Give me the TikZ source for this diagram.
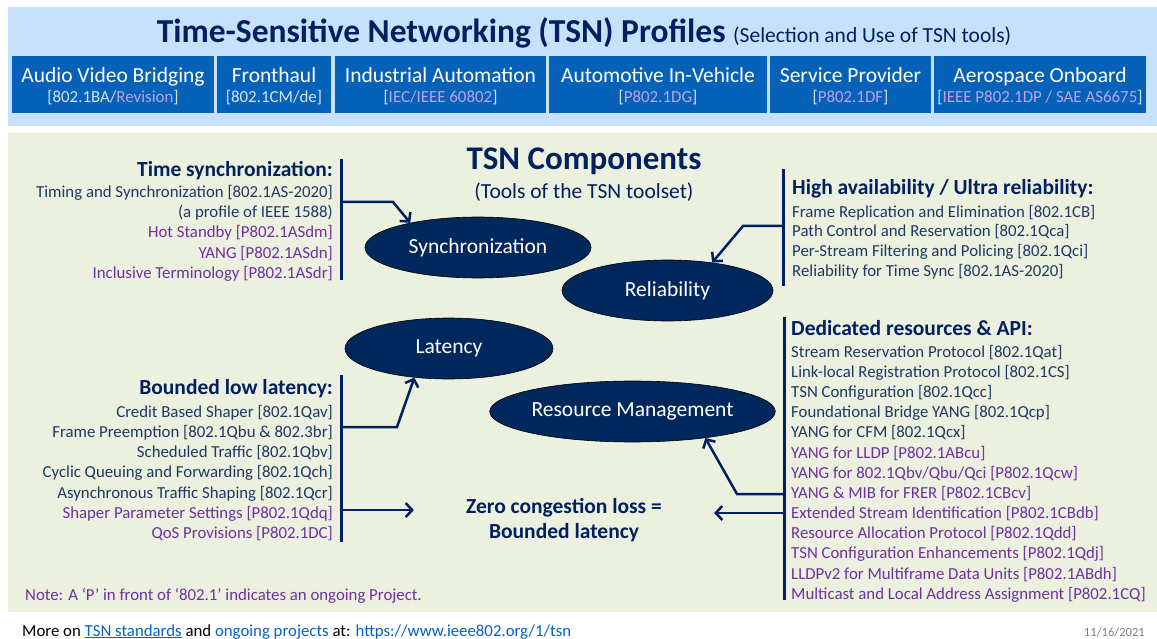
\documentclass[tikz,border=0pt]{standalone}
\usepackage{fontspec}
\setmainfont{Carlito}
\usetikzlibrary{arrows.meta,positioning,shapes.geometric}
\definecolor{navy}{RGB}{0,32,96}
\definecolor{itemblue}{RGB}{31,56,100}
\definecolor{project}{RGB}{112,48,160}
\definecolor{profblue}{RGB}{5,98,184}
\definecolor{lavender}{RGB}{184,164,232}
\definecolor{bracket}{RGB}{214,226,240}
\definecolor{bandblue}{RGB}{198,225,249}
\definecolor{panel}{RGB}{235,241,222}
\definecolor{ovalfill}{RGB}{0,40,92}
\definecolor{linkblue}{RGB}{5,99,193}
\newcommand{\fs}[1]{\fontsize{#1}{#1}\selectfont}
\newcommand{\proj}[1]{\textcolor{lavender}{#1}}
\newcommand{\weblink}[1]{\textcolor{linkblue}{\underline{#1}}}
\tikzset{
  profile/.style={rectangle, fill=profblue, minimum height=57pt, inner sep=0pt, outer sep=0pt},
  pname/.style={anchor=base, text=white, font=\fs{21.5}, inner sep=0pt},
  pref/.style={anchor=base, text=bracket, font=\fs{16.9}, inner sep=0pt},
  oval/.style={ellipse, fill=ovalfill, draw=black, line width=0.6pt, inner sep=0pt, text=white, font=\fs{21.5}},
  head/.style={text=navy, font=\bfseries\fs{21.5}, inner sep=0pt},
  item/.style={text=itemblue, font=\fs{16.8}, inner sep=0pt},
  bar/.style={draw=navy, line width=3pt},
  conn/.style={draw=navy, line width=2.5pt, -{Straight Barb[length=6.5pt,width=14pt]}}
}
\begin{document}
\begin{tikzpicture}[x=1pt,y=-1pt]
    \useasboundingbox (0,0) rectangle (1157,639);
    \fill[white] (0,0) rectangle (1157,639);
    \fill[bandblue] (8,7) rectangle (1157,126);
    \fill[panel] (8,133) rectangle (1157,612);

    \node[anchor=base, text=navy, inner sep=0pt] (title) at (584,43)
        {\bfseries\fs{33.5}Time-Sensitive Networking (TSN) Profiles \mdseries\fs{21.5}(Selection and Use of TSN tools)};

    \node[profile, minimum width=202pt, anchor=north west] (avb) at (12,56) {};
    \node[profile, minimum width=114pt, right=3pt of avb] (fh) {};
    \node[profile, minimum width=211pt, right=4pt of fh] (ia) {};
    \node[profile, minimum width=218pt, right=3pt of ia] (auto) {};
    \node[profile, minimum width=161pt, right=3pt of auto] (sp) {};
    \node[profile, minimum width=212pt, right=3pt of sp] (aero) {};
    \node[pname] at (avb.center |- 0,83) {Audio Video Bridging};
    \node[pref] at (avb.center |- 0,103) {[802.1BA/\proj{Revision}]};
    \node[pname] at (fh.center |- 0,83) {Fronthaul};
    \node[pref] at (fh.center |- 0,103) {[802.1CM/de]};
    \node[pname] at (ia.center |- 0,83) {Industrial Automation};
    \node[pref] at (ia.center |- 0,103) {[\proj{IEC/IEEE 60802}]};
    \node[pname] at (auto.center |- 0,83) {Automotive In-Vehicle};
    \node[pref] at (auto.center |- 0,103) {[\proj{P802.1DG}]};
    \node[pname] at (sp.center |- 0,83) {Service Provider};
    \node[pref] at (sp.center |- 0,103) {[\proj{P802.1DF}]};
    \node[pname] at (aero.center |- 0,83) {Aerospace Onboard};
    \node[pref] at (aero.center |- 0,103) {[\proj{IEEE P802.1DP / SAE AS6675}]};

    \node[anchor=base, text=navy, font=\bfseries\fs{33}, inner sep=0pt] (comp) at (584,170) {TSN Components};
    \node[anchor=base, text=navy, font=\fs{21.5}, inner sep=0pt] (tools) at (584,199) {(Tools of the TSN toolset)};

    \node[oval, minimum width=226pt, minimum height=61pt] (sync) at (478,247.5) {Synchronization};
    \node[oval, minimum width=211pt, minimum height=61pt] (rel) at (667.5,290.5) {Reliability};
    \node[oval, minimum width=208pt, minimum height=61pt] (lat) at (449,348.5) {Latency};
    \node[oval, minimum width=241pt, minimum height=61pt] (res) at (632.5,411.5) {Resource Management};
    \node[text=navy, font=\bfseries\fontsize{21.5}{25}\selectfont, align=center, inner ysep=0pt, inner xsep=52pt] (zero) at (564,520)
        {Zero congestion loss =\\Bounded latency};

    \node[head, anchor=base east] (tsHead) at (333,176.5) {Time synchronization:};
    \foreach \c/\t [count=\i from 0] in {itemblue/{Timing and Synchronization [802.1AS-2020]},
        itemblue/{(a profile of IEEE 1588)}, project/{Hot Standby [P802.1ASdm]},
        project/{YANG [P802.1ASdn]}, project/{Inclusive Terminology [P802.1ASdr]}}
        \node[item, text=\c, anchor=base east] (ts\i) at (333,{197.2+20.4*\i}) {\t};

    \node[head, anchor=base east] (latHead) at (333,394.5) {Bounded low latency:};
    \foreach \c/\t [count=\i from 0] in {itemblue/{Credit Based Shaper [802.1Qav]},
        itemblue/{Frame Preemption [802.1Qbu \& 802.3br]}, itemblue/{Scheduled Traffic [802.1Qbv]},
        itemblue/{Cyclic Queuing and Forwarding [802.1Qch]}, itemblue/{Asynchronous Traffic Shaping [802.1Qcr]},
        project/{Shaper Parameter Settings [P802.1Qdq]}, project/{QoS Provisions [P802.1DC]}}
        \node[item, text=\c, anchor=base east] (bl\i) at (333,{417.2+20.2*\i}) {\t};

    \node[head, anchor=base west] (relHead) at (792,194.5) {High availability / Ultra reliability:};
    \foreach \t [count=\i from 0] in {Frame Replication and Elimination [802.1CB],
        Path Control and Reservation [802.1Qca], Per-Stream Filtering and Policing [802.1Qci],
        Reliability for Time Sync [802.1AS-2020]}
        \node[item, anchor=base west] (ha\i) at (792,{217.2+19.7*\i}) {\t};

    \node[head, anchor=base west] (resHead) at (791,335.5) {Dedicated resources \& API:};
    \foreach \c/\t [count=\i from 0] in {itemblue/{Stream Reservation Protocol [802.1Qat]},
        itemblue/{Link-local Registration Protocol [802.1CS]}, itemblue/{TSN Configuration [802.1Qcc]},
        itemblue/{Foundational Bridge YANG [802.1Qcp]}, itemblue/{YANG for CFM [802.1Qcx]},
        project/{YANG for LLDP [P802.1ABcu]}, project/{YANG for 802.1Qbv/Qbu/Qci [P802.1Qcw]},
        project/{YANG \& MIB for FRER [P802.1CBcv]}, project/{Extended Stream Identification [P802.1CBdb]},
        project/{Resource Allocation Protocol [P802.1Qdd]}, project/{TSN Configuration Enhancements [P802.1Qdj]},
        project/{LLDPv2 for Multiframe Data Units [P802.1ABdh]}, project/{Multicast and Local Address Assignment [P802.1CQ]}}
        \node[item, text=\c, anchor=base west] (dr\i) at (791,{357.2+20.17*\i}) {\t};

    \coordinate (tsTop) at (341,159);
    \coordinate (tsBot) at (341,280);
    \coordinate (tsOut) at (341,202);
    \coordinate (latTop) at (341,375);
    \coordinate (latBot) at (341,542);
    \coordinate (latOut) at (341,427);
    \coordinate (zeroIn) at (341,510);
    \coordinate (relTop) at (783,169);
    \coordinate (relBot) at (783,286);
    \coordinate (relOut) at (783,226);
    \coordinate (resTop) at (784,317);
    \coordinate (resBot) at (784,600);
    \coordinate (resOut) at (784,494);
    \coordinate (zeroIn2) at (784,513);
    \draw[bar] (tsTop) -- (tsBot);
    \draw[bar] (latTop) -- (latBot);
    \draw[bar] (relTop) -- (relBot);
    \draw[bar] (resTop) -- (resBot);
    \draw[conn] (tsOut) -- ++(52,0) -- (sync.160);
    \draw[conn] (relOut) -- ++(-40,0) -- (rel.32);
    \draw[conn] (latOut) -- ++(56,0) -- (lat.220);
    \draw[conn] (resOut) -- ++(-47,0) -- (res.-20);
    \draw[conn] (zeroIn) -- (zeroIn -| zero.west);
    \draw[conn] (zeroIn2) -- (zeroIn2 -| zero.east);

    \node[anchor=base west, text=project, font=\fs{16.8}, inner sep=0pt] (note) at (25,600)
        {Note: A ‘P’ in front of ‘802.1’ indicates an ongoing Project.};
    \node[anchor=base west, font=\fs{16.8}, inner sep=0pt] (more) at (22,636)
        {More on \weblink{TSN standards} and \weblink{ongoing projects} at: \weblink{https://www.ieee802.org/1/tsn}};
    \node[anchor=base east, text=gray, font=\fs{12.6}, inner sep=0pt] (date) at (1145,636) {11/16/2021};
\end{tikzpicture}
\end{document}
